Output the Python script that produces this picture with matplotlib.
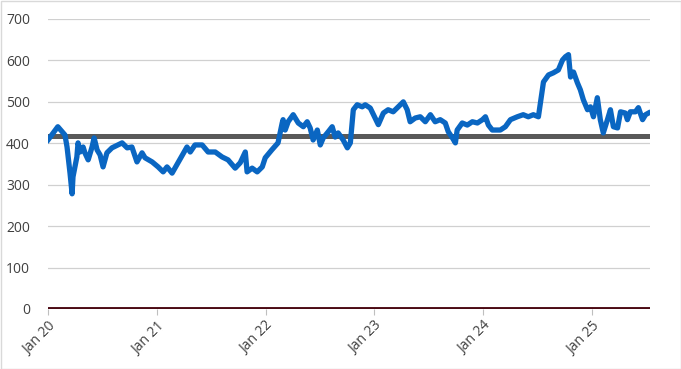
import matplotlib
matplotlib.use("Agg")
import matplotlib.pyplot as plt
from matplotlib.patches import Rectangle
import datetime as dt

dates = [
    "2020-01-01", "2020-02-03", "2020-02-27", "2020-03-05", "2020-03-15", "2020-03-22",
    "2020-03-25", "2020-04-07", "2020-04-11", "2020-04-18", "2020-04-28", "2020-05-04",
    "2020-05-15", "2020-05-28", "2020-06-04", "2020-06-14", "2020-06-24", "2020-07-04",
    "2020-07-17", "2020-08-03", "2020-09-06", "2020-09-23", "2020-10-09", "2020-10-26",
    "2020-11-12", "2020-11-22", "2020-12-16", "2021-01-05", "2021-01-22", "2021-02-04",
    "2021-02-21", "2021-03-13", "2021-04-12", "2021-04-23", "2021-05-09", "2021-06-02",
    "2021-06-22", "2021-07-16", "2021-08-08", "2021-08-28", "2021-09-21", "2021-10-08",
    "2021-10-25", "2021-10-31", "2021-11-17", "2021-12-04", "2021-12-21", "2021-12-31",
    "2022-01-22", "2022-02-12", "2022-02-26", "2022-03-01", "2022-03-08", "2022-03-18",
    "2022-04-04", "2022-04-21", "2022-05-08", "2022-05-21", "2022-05-31", "2022-06-10",
    "2022-06-24", "2022-07-04", "2022-07-14", "2022-07-31", "2022-08-13", "2022-08-23",
    "2022-09-02", "2022-09-19", "2022-10-03", "2022-10-13", "2022-10-23", "2022-11-05",
    "2022-11-22", "2022-12-02", "2022-12-19", "2022-12-29", "2023-01-15", "2023-02-01",
    "2023-02-17", "2023-03-06", "2023-03-23", "2023-04-09", "2023-04-22", "2023-05-02",
    "2023-05-19", "2023-06-05", "2023-06-22", "2023-07-09", "2023-07-25", "2023-08-11",
    "2023-08-28", "2023-09-07", "2023-09-21", "2023-10-01", "2023-10-07", "2023-10-24",
    "2023-11-10", "2023-11-27", "2023-12-14", "2023-12-31", "2024-01-10", "2024-01-20",
    "2024-02-02", "2024-02-29", "2024-03-17", "2024-04-03", "2024-04-26", "2024-05-16",
    "2024-06-02", "2024-06-19", "2024-07-06", "2024-07-19", "2024-07-23", "2024-08-09",
    "2024-08-25", "2024-09-11", "2024-09-25", "2024-10-05", "2024-10-15", "2024-10-22",
    "2024-11-01", "2024-11-14", "2024-11-24", "2024-12-04", "2024-12-18", "2024-12-28",
    "2025-01-07", "2025-01-20", "2025-01-30", "2025-02-09", "2025-02-23", "2025-03-05",
    "2025-03-15", "2025-03-29", "2025-04-08", "2025-04-24", "2025-05-01", "2025-05-11",
    "2025-05-28", "2025-06-07", "2025-06-21", "2025-07-01", "2025-07-11",
]
values = [
    408, 440, 420, 391, 328, 278,
    319, 367, 401, 379, 391, 377,
    360, 391, 413, 384, 372, 343,
    377, 389, 401, 389, 391, 355,
    377, 365, 355, 343, 331, 343,
    328, 353, 391, 379, 396, 396,
    379, 379, 367, 360, 340, 353,
    379, 331, 340, 331, 343, 365,
    384, 401, 449, 457, 432, 452,
    469, 449, 440, 452, 437, 408,
    432, 396, 413, 428, 440, 415,
    425, 408, 389, 401, 481, 493,
    488, 493, 485, 470, 445, 473,
    481, 476, 488, 500, 481, 452,
    461, 464, 452, 469, 452, 457,
    449, 428, 413, 401, 432, 449,
    444, 452, 449, 457, 464, 444,
    432, 432, 440, 457, 464, 469,
    464, 469, 464, 529, 548, 565,
    570, 577, 601, 609, 614, 560,
    572, 546, 529, 505, 481, 488,
    464, 510, 457, 425, 457, 481,
    440, 437, 476, 473, 457, 476,
    476, 486, 457, 469, 473,
]
reference_level = 418
zero_level = 0
tick_years = [2020, 2021, 2022, 2023, 2024, 2025]
tick_labels = ["Jan 20", "Jan 21", "Jan 22", "Jan 23", "Jan 24", "Jan 25"]

x = [dt.datetime.strptime(d, "%Y-%m-%d") for d in dates]
xmin = dt.datetime(2020, 1, 1)
xmax = dt.datetime(2025, 7, 16)

plt.rcParams['font.family'] = ['Open Sans', 'DejaVu Sans']
fig = plt.figure(figsize=(6.81, 3.69), dpi=100)
ax = fig.add_axes([48/681, 1-309/369, (650-48)/681, (309-19)/369])

ax.set_xlim(xmin, xmax)
ax.set_ylim(0, 700)
ax.set_yticks(range(0, 701, 100))
ax.grid(axis='y', color='#D0D0D0', linewidth=0.9)
ax.set_axisbelow(True)
for s in ax.spines.values():
    s.set_visible(False)

ax.axhline(reference_level, color='#595959', linewidth=3.6, zorder=3)
ax.plot(x, values, color='#0A66C2', linewidth=3.8, solid_joinstyle='round', zorder=4)
ax.axhline(zero_level, color='#4B0A14', linewidth=2.8, zorder=5)

ax.set_xticks([dt.datetime(y, 1, 1) for y in tick_years])
ax.set_xticklabels(tick_labels, rotation=45, ha='right', rotation_mode='anchor')
ax.tick_params(axis='x', length=4, color='#BFBFBF', colors='#404040', labelsize=10, pad=3)
ax.tick_params(axis='y', length=0, colors='#404040', labelsize=10, pad=13)

fig.patches.append(Rectangle((0.5/681, 0.5/369), 1-1/681, 1-1/369, transform=fig.transFigure,
                             fill=False, edgecolor='#D9D9D9', linewidth=1))

fig.savefig("out.png", dpi=100)
